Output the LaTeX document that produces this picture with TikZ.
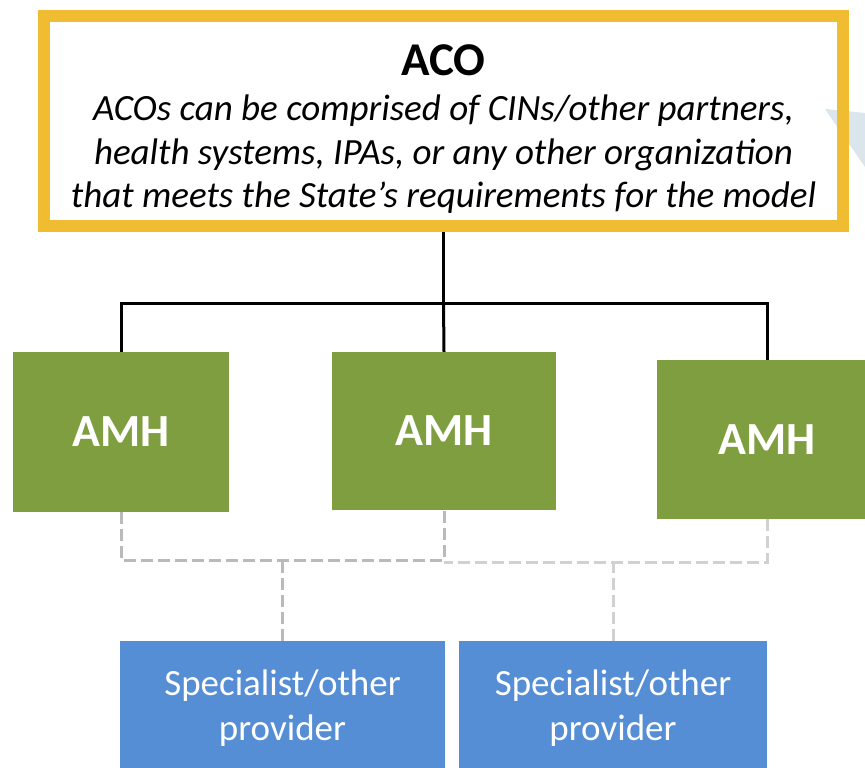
\documentclass[tikz,border=0pt]{standalone}
\usepackage{fontspec}
\setmainfont{Carlito}
\usepackage{tikz}
\usetikzlibrary{positioning}
\definecolor{acoyellow}{RGB}{240,188,50}
\definecolor{amhgreen}{RGB}{126,158,64}
\definecolor{specblue}{RGB}{85,142,213}
\definecolor{calloutblue}{RGB}{218,229,236}

\begin{document}
\begin{tikzpicture}[x=1pt, y=-1pt]
    % Define styles
    \tikzstyle{aco} = [rectangle, fill=white, line width=12pt, minimum width=799pt, minimum height=210pt, align=center, font=\fontsize{37}{43.5}\selectfont]
    \tikzstyle{amh} = [rectangle, fill=amhgreen, text=white, font=\fontsize{46}{55}\selectfont\bfseries]
    \tikzstyle{spec} = [rectangle, fill=specblue, text=white, minimum height=134pt, align=center, font=\fontsize{37}{45}\selectfont]
    \tikzstyle{frame} = [draw=acoyellow, line width=12pt]
    \tikzstyle{tree} = [draw, line width=3pt]
    \tikzstyle{link} = [draw=black!27, line width=3pt, dash pattern=on 12pt off 5pt]

    \path [use as bounding box, clip] (0,0) rectangle (865,768);

    % Place nodes - ACO
    \node [aco] (aco) at (443.5,121) {{\fontsize{47}{52}\selectfont\bfseries\rule{0pt}{47pt}ACO}\\[1.5pt]
        \textit{ACOs can be comprised of CINs/other partners,}\\
        \textit{health systems, IPAs, or any other organization}\\
        \textit{that meets the State's requirements for the model}};

    % Callout tip, then the yellow frame over it
    \fill [calloutblue] (825,109) -- (885,115) -- (885,196) -- cycle;
    \path [frame] ([xshift=6pt, yshift=-6pt]aco.north west) rectangle ([xshift=-6pt, yshift=6pt]aco.south east);

    % Place nodes - AMHs
    \node [amh, below of=aco, node distance=311pt, xshift=-322.5pt, minimum width=216pt, minimum height=160pt] (amh1) {AMH};
    \node [amh, below of=aco, node distance=310pt, xshift=0.5pt, minimum width=224pt, minimum height=158pt] (amh2) {AMH};
    \node [amh, below of=aco, node distance=318.5pt, xshift=323.5pt, minimum width=220pt, minimum height=159pt] (amh3) {AMH};

    % Place nodes - specialists
    \node [spec, below of=aco, node distance=587pt, xshift=-161pt, minimum width=325pt] (spec1) {Specialist/other\\provider};
    \node [spec, below of=aco, node distance=587pt, xshift=169.5pt, minimum width=308pt] (spec2) {Specialist/other\\provider};

    % Draw tree from ACO to AMHs
    \coordinate (hub) at (443.5,303);
    \path [tree] (aco.south) -- (hub);
    \path [tree] (amh1.north) |- (amh3.north |- hub) -- (amh3.north);
    \path [tree] (hub) -- (amh2.north);

    % Dashed links from AMHs to specialists
    \coordinate (lhub) at (444,560);
    \coordinate (rhub) at (444,562);
    \path [link] (amh1.south) |- (lhub) -- (amh2.south);
    \path [link, draw=black!18] (amh3.south) |- (rhub);
    \path [link] (spec1.north) -- (spec1.north |- lhub);
    \path [link, draw=black!18] (spec2.north) -- (spec2.north |- rhub);
\end{tikzpicture}
\end{document}
